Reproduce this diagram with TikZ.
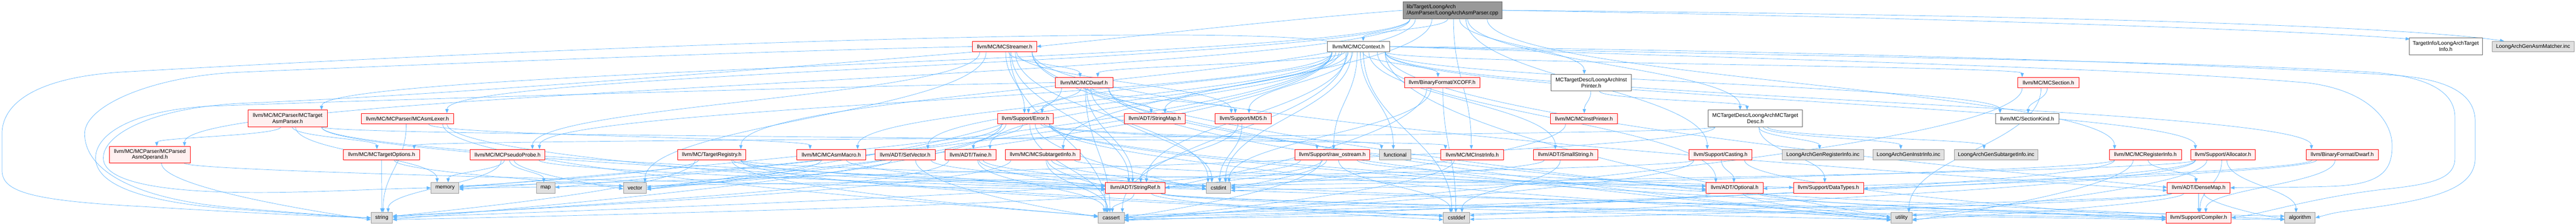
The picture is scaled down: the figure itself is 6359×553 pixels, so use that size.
\documentclass[tikz,border=0pt]{standalone}
\usepackage{fontspec}
\setmainfont{Liberation Sans}
\usetikzlibrary{arrows.meta,calc}
\definecolor{edgec}{HTML}{63B8FF}
\definecolor{redfill}{HTML}{FFF0F0}
\definecolor{redline}{HTML}{FF0000}
\definecolor{grayfill}{HTML}{E0E0E0}
\definecolor{grayline}{HTML}{999999}
\definecolor{darkline}{HTML}{666666}
\definecolor{rootfill}{HTML}{999999}
\pgfdeclarelayer{back}
\pgfdeclarelayer{bg}
\pgfsetlayers{back,bg,main}
\tikzset{
  box/.style={draw, line width=1.1pt, inner sep=0pt, minimum height=26pt,
    font=\fontsize{13.2}{15}\selectfont, align=center, text=black},
  rednode/.style={box, draw=redline, fill=redfill},
  graynode/.style={box, draw=grayline, fill=grayfill},
  whitenode/.style={box, draw=darkline, fill=white},
  rootnode/.style={box, draw=darkline, fill=rootfill, align=left},
  tall/.style={minimum height=41pt},
  ledge/.style={draw=edgec, line width=0.9pt, -{Triangle[length=10pt,width=8pt]}},
  edge/.style={ledge,
    to path={let \p1=(\tikztostart.south), \p2=(\tikztotarget.north),
      \p3=(\tikztostart.south east), \p4=(\tikztotarget.north east),
      \p5=(\tikztotarget.west), \p6=(\tikztotarget.east),
      \n1={max(-0.85*(\x3-\x1),min(0.85*(\x3-\x1),0.05*(\x2-\x1)))},
      \n2={max(-0.85*(\x4-\x2),min(0.85*(\x4-\x2),0.05*(\x1-\x2)))},
      \n3={0.45*(\y1-\y2)},
      \n4={((abs(\x2-\x1) > 3*(\y1-\y2)) && (\y2 < -440)) ? 1 : 0},
      \n5={\n4 > 0 ? (\x2 > \x1 ? \x5 : \x6) : \x2+\n2},
      \n6={\n4 > 0 ? \y5+(mod(\x1,16)-8)*0.8 : \y2},
      \n7={\n4 > 0 ? (\x2 > \x1 ? \x5-0.35*(\x5-\x1) : \x6+0.35*(\x1-\x6)) : \x2+\n2},
      \n8={\n4 > 0 ? \n6+0.2*(\y1-\n6) : \y2+\n3} in
      (\x1+\n1,\y1) .. controls (\x1+\n1,\y1-\n3) and ({\n7*1pt},{\n8*1pt}) .. ({\n5*1pt},{\n6*1pt})}}
}
\begin{document}
\begin{tikzpicture}[x=1pt,y=-1pt]
\useasboundingbox (0,0) rectangle (6359,553);
\begin{pgfonlayer}{back}
\fill[white] (0,0) rectangle (6359,553);
\end{pgfonlayer}
% row 1
\node[rootnode, tall, minimum width=245pt] (R) at (3585.5,25.5) {lib/Target/LoongArch\\/AsmParser/LoongArchAsmParser.cpp};
% row 2
\node[rednode, minimum width=158pt] (S) at (2480,115) {llvm/MC/MCStreamer.h};
\node[whitenode, minimum width=153pt] (C) at (3353.5,115) {llvm/MC/MCContext.h};
\node[whitenode, tall, minimum width=181pt] (TI) at (6037.5,114.5) {TargetInfo/LoongArchTarget\\Info.h};
\node[graynode, minimum width=202pt] (AMI) at (6253,115) {LoongArchGenAsmMatcher.inc};
% row 3
\node[rednode, minimum width=142pt] (D) at (2676,204) {llvm/MC/MCDwarf.h};
\node[rednode, minimum width=186pt] (X) at (3560,204) {llvm/BinaryFormat/XCOFF.h};
\node[whitenode, tall, minimum width=198pt] (IP) at (3928,204) {MCTargetDesc/LoongArchInst\\Printer.h};
\node[rednode, minimum width=151pt] (MS) at (5056.5,204) {llvm/MC/MCSection.h};
% row 4
\node[rednode, tall, minimum width=196pt] (TAP) at (710,292.5) {llvm/MC/MCParser/MCTarget\\AsmParser.h};
\node[rednode, minimum width=228pt] (AL) at (1006,293) {llvm/MC/MCParser/MCAsmLexer.h};
\node[rednode, minimum width=137pt] (E) at (2531.5,293) {llvm/Support/Error.h};
\node[rednode, minimum width=151pt] (SM) at (2850.5,293) {llvm/ADT/StringMap.h};
\node[rednode, minimum width=138pt] (M5) at (3069,293) {llvm/Support/MD5.h};
\node[rednode, minimum width=166pt] (MIP) at (3910,293) {llvm/MC/MCInstPrinter.h};
\node[whitenode, tall, minimum width=232pt] (TD) at (4333,292.5) {MCTargetDesc/LoongArchMCTarget\\Desc.h};
\node[whitenode, minimum width=156pt] (SK) at (5004,293) {llvm/MC/SectionKind.h};
% row 5
\node[rednode, tall, minimum width=200pt] (PAO) at (370,382) {llvm/MC/MCParser/MCParsed\\AsmOperand.h};
\node[rednode, minimum width=188pt] (TO) at (942,382) {llvm/MC/MCTargetOptions.h};
\node[rednode, minimum width=184pt] (PP) at (1253,382) {llvm/MC/MCPseudoProbe.h};
\node[rednode, minimum width=168pt] (TR) at (1757,382) {llvm/MC/TargetRegistry.h};
\node[rednode, minimum width=170pt] (AM) at (2052,382) {llvm/MC/MCAsmMacro.h};
\node[rednode, minimum width=149pt] (SV) at (2234.5,382) {llvm/ADT/SetVector.h};
\node[rednode, minimum width=126pt] (TW) at (2396,382) {llvm/ADT/Twine.h};
\node[rednode, minimum width=184pt] (STI) at (2574,382) {llvm/MC/MCSubtargetInfo.h};
\node[rednode, minimum width=184pt] (RO) at (3289,382) {llvm/Support/raw\_ostream.h};
\node[graynode, minimum width=78pt] (FN) at (3444,382) {functional};
\node[rednode, minimum width=155pt] (II) at (3634.5,382) {llvm/MC/MCInstrInfo.h};
\node[rednode, minimum width=158pt] (SS) at (3865,382) {llvm/ADT/SmallString.h};
\node[rednode, minimum width=155pt] (CA) at (4247.5,382) {llvm/Support/Casting.h};
\node[graynode, minimum width=200pt] (GRI) at (4500,382) {LoongArchGenRegisterInfo.inc};
\node[graynode, minimum width=176pt] (GII) at (4711,382) {LoongArchGenInstrInfo.inc};
\node[graynode, minimum width=207pt] (GSI) at (4927.5,382) {LoongArchGenSubtargetInfo.inc};
\node[rednode, minimum width=178pt] (RI) at (5296,382) {llvm/MC/MCRegisterInfo.h};
\node[rednode, minimum width=159pt] (ALC) at (5487.5,382) {llvm/Support/Allocator.h};
\node[rednode, minimum width=178pt] (DW) at (5782,382) {llvm/BinaryFormat/Dwarf.h};
% row 6
\node[graynode, minimum width=69pt] (MEM) at (1098.5,464) {memory};
\node[graynode, minimum width=46pt] (MAP) at (1347,464) {map};
\node[graynode, minimum width=57pt] (VEC) at (1567.5,464) {vector};
\node[rednode, minimum width=147pt] (SR) at (2802.5,464) {llvm/ADT/StringRef.h};
\node[graynode, minimum width=60pt] (CI) at (3008,464) {cstdint};
\node[rednode, minimum width=140pt] (OP) at (4282,464) {llvm/ADT/Optional.h};
\node[rednode, minimum width=173pt] (DT) at (4513.5,464) {llvm/Support/DataTypes.h};
\node[rednode, minimum width=155pt] (DM) at (5427.5,464) {llvm/ADT/DenseMap.h};
% row 7
\node[graynode, minimum width=53pt] (STR) at (942.5,538) {string};
\node[graynode, minimum width=64pt] (CAS) at (2743,538) {cassert};
\node[graynode, minimum width=65pt] (CD) at (3595.5,538) {cstddef};
\node[graynode, minimum width=52pt] (UT) at (4694,538) {utility};
\node[rednode, minimum width=161pt] (CO) at (5427.5,538) {llvm/Support/Compiler.h};
\node[graynode, minimum width=75pt] (ALG) at (5677.5,538) {algorithm};
\begin{pgfonlayer}{bg}
% root
\draw[ledge] (R.west) .. controls (3200,45) and (2800,90) .. (S.east);
\draw[ledge] (R.east) .. controls (4600,40) and (5600,70) .. ($(TI.north west)+(2,3)$);
\draw[ledge] (R.east) .. controls (4900,35) and (5900,60) .. ($(AMI.north west)+(30,0)$);
\foreach \t in {C,IP,TD,TAP,PAO,AL,II,RI,STI,TR,CA} \draw[edge] (R) to (\t);
% MCContext
\foreach \t in {DM,OP,SV,SS,SM,SR,TW,DW,X,AM,D,PP,MS,SK,ALC,E,M5,RO,CAS,CD,CI,FN,MAP,MEM,UT,VEC} \draw[edge] (C) to (\t);
\draw[ledge] (C.north west) .. controls (3000,60) and (1500,110) .. (300,178) .. controls (80,192) and (5,260) .. (5,330) -- (5,420) .. controls (5,470) and (60,495) .. (350,510) .. controls (600,525) and (800,535) .. (STR.west);
\draw[ledge] (C.east) .. controls (4500,125) and (5500,160) .. (5900,185) .. controls (6060,195) and (6110,240) .. (6110,300) -- (6110,390) .. controls (6110,470) and (6000,495) .. (5800,520) .. controls (5760,526) .. (ALG.east);
\draw[ledge] (C.east) .. controls (4500,140) and (5400,150) .. (5850,178) .. controls (6020,190) and (6060,240) .. (6060,290) -- (6060,390) .. controls (6060,440) and (6010,455) .. (5880,468) .. controls (5700,490) and (5600,525) .. (CO.east);
\draw[ledge] (C.east) .. controls (4500,150) and (5300,170) .. (5700,205) .. controls (5850,225) and (5905,300) .. (5905,360) .. controls (5905,420) and (5880,455) .. (5760,460) .. controls (5650,464) and (5560,462) .. (DM.east);
% MCStreamer
\foreach \t in {D,E,M5,PP,DM,OP,SR,CAS,CI,UT,VEC} \draw[edge] (S) to (\t);
\draw[ledge] (S.west) .. controls (1900,125) and (900,165) .. (600,178) .. controls (380,186) and (209,260) .. (209,330) .. controls (209,420) and (330,495) .. (600,515) .. controls (750,527) and (850,535) .. (STR.west);
\draw[ledge] (S.south west) .. controls (1900,170) and (1100,235) .. (600,255) .. controls (380,265) and (255,330) .. (255,390) .. controls (255,450) and (400,480) .. (700,475) .. controls (850,472) and (950,466) .. (MEM.west);
% MCDwarf
\foreach \t in {OP,SM,SR,E,M5,CAS,CI,UT,VEC} \draw[edge] (D) to (\t);
\draw[ledge] (D.west) .. controls (2000,215) and (1000,245) .. (520,262) .. controls (330,272) and (236,330) .. (236,390) .. controls (236,450) and (330,500) .. (600,518) .. controls (750,528) and (850,536) .. (STR.west);
% others
\foreach \t in {TW,CO,RO,ALG,CAS,CI,FN,MEM,STR,UT,VEC} \draw[edge] (E) to (\t);
\foreach \t in {SR,CI} \draw[edge] (M5) to (\t);
\foreach \t in {SR,CD,CI} \draw[edge] (X) to (\t);
\foreach \t in {MIP,TD} \draw[edge] (IP) to (\t);
\draw[edge] (MIP) to (CI);
\foreach \t in {TO,DT,MEM,GRI,GII,GSI} \draw[edge] (TD) to (\t);
\foreach \t in {SK,CAS,UT} \draw[edge] (MS) to (\t);
\foreach \t in {PAO,TO,II,SR,CI,MEM} \draw[edge] (TAP) to (\t);
\foreach \t in {SR,STR} \draw[edge] (PAO) to (\t);
\foreach \t in {AM,CAS,CD,STR} \draw[edge] (AL) to (\t);
\foreach \t in {STR,VEC} \draw[edge] (TO) to (\t);
\foreach \t in {SR,MAP,MEM,STR,VEC} \draw[edge] (PP) to (\t);
\foreach \t in {OP,SR,ALG,CAS,CD,MEM,STR} \draw[edge] (TR) to (\t);
\foreach \t in {SR,VEC} \draw[edge] (AM) to (\t);
\foreach \t in {CO,CAS,VEC} \draw[edge] (SV) to (\t);
\foreach \t in {SR,CAS,CI,STR} \draw[edge] (TW) to (\t);
\foreach \t in {OP,SR,CAS,CI,STR} \draw[edge] (STI) to (\t);
\foreach \t in {SR,DT,CAS,CD,CI,STR} \draw[edge] (RO) to (\t);
\draw[edge] (II) to (CAS);
\foreach \t in {SR,CD} \draw[edge] (SS) to (\t);
\foreach \t in {CO,OP,CAS,MEM} \draw[edge] (CA) to (\t);
\foreach \t in {DM,CAS,CI,UT} \draw[edge] (RI) to (\t);
\foreach \t in {CO,ALG,CAS,CD,CI,UT} \draw[edge] (ALC) to (\t);
\foreach \t in {OP,CO,DT} \draw[edge] (DW) to (\t);
\foreach \t in {CO,ALG,CAS,CD,STR,UT} \draw[edge] (SR) to (\t);
\foreach \t in {CO,CAS,UT} \draw[edge] (OP) to (\t);
\foreach \t in {CO,ALG,CAS,CD,UT} \draw[edge] (DM) to (\t);
\end{pgfonlayer}
\end{tikzpicture}
\end{document}
